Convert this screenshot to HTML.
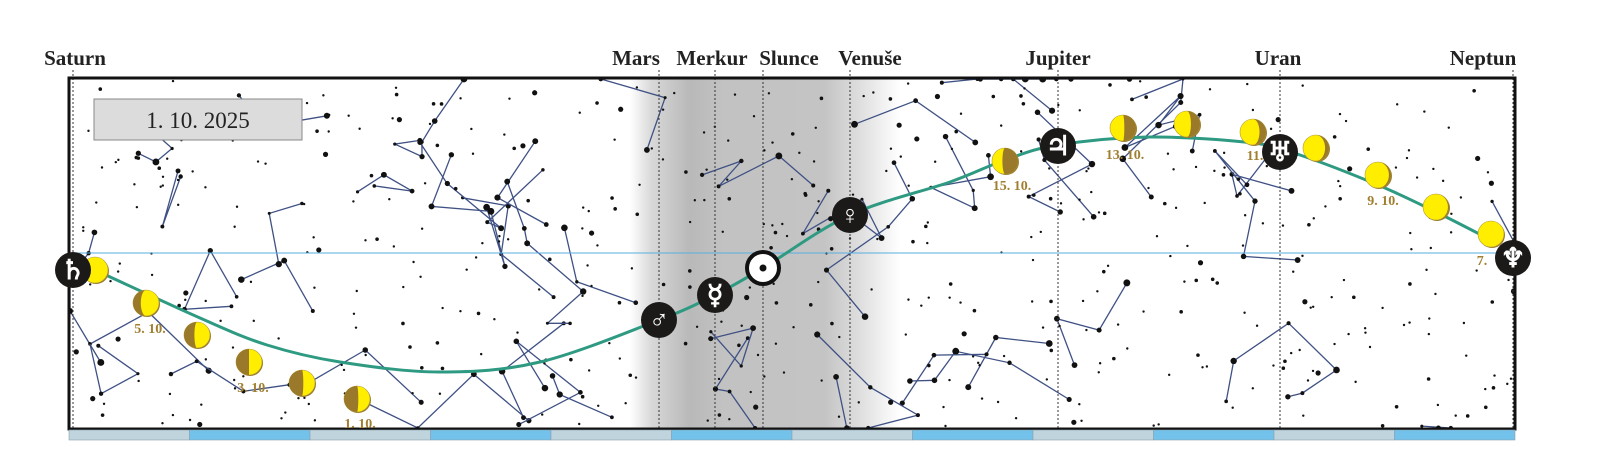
<!DOCTYPE html>
<html><head><meta charset="utf-8"><style>
html,body{margin:0;padding:0;background:#fff;width:1600px;height:457px;overflow:hidden;}
svg{display:block}
text{font-family:"Liberation Serif",serif;}
</style></head><body>
<svg id="s" width="1600" height="457" viewBox="0 0 1600 457" xmlns="http://www.w3.org/2000/svg">
<defs>
<linearGradient id="band" x1="0" x2="1" y1="0" y2="0">
<stop offset="0" stop-color="#fff"/>
<stop offset="0.08" stop-color="#d8d8d8"/>
<stop offset="0.22" stop-color="#b9b9b9"/>
<stop offset="0.35" stop-color="#c2c2c2"/>
<stop offset="0.72" stop-color="#c4c4c4"/>
<stop offset="0.85" stop-color="#dedede"/>
<stop offset="1" stop-color="#fff"/>
</linearGradient>
<clipPath id="fr"><rect x="69" y="78" width="1446" height="351"/></clipPath>
</defs>
<rect x="630" y="78" width="270" height="351" fill="url(#band)"/>
<g id="stars" clip-path="url(#fr)"></g>
<line x1="69" y1="253" x2="1515" y2="253" stroke="#5aaee0" stroke-width="1"/>
<g stroke="#333" stroke-width="1" stroke-dasharray="2,2">
<line x1="73" y1="70" x2="73" y2="429"/>
<line x1="659" y1="70" x2="659" y2="429"/>
<line x1="715" y1="70" x2="715" y2="429"/>
<line x1="763" y1="70" x2="763" y2="429"/>
<line x1="850" y1="70" x2="850" y2="429"/>
<line x1="1058" y1="70" x2="1058" y2="429"/>
<line x1="1280" y1="70" x2="1280" y2="429"/>
<line x1="1513" y1="70" x2="1513" y2="429"/>
</g>
<rect x="69" y="78" width="1446" height="351" fill="none" stroke="#111" stroke-width="3"/>
<g id="stripe"></g>
<g font-weight="bold" font-size="21" fill="#222">
<text x="75" y="65" text-anchor="middle">Saturn</text>
<text x="636" y="65" text-anchor="middle">Mars</text>
<text x="712" y="65" text-anchor="middle">Merkur</text>
<text x="789" y="65" text-anchor="middle">Slunce</text>
<text x="870" y="65" text-anchor="middle">Venuše</text>
<text x="1058" y="65" text-anchor="middle">Jupiter</text>
<text x="1278" y="65" text-anchor="middle">Uran</text>
<text x="1483" y="65" text-anchor="middle">Neptun</text>
</g>
<rect x="94" y="99" width="208" height="41" fill="#dcdcdc" stroke="#888" stroke-width="1"/>
<text x="198" y="128" text-anchor="middle" font-size="23" fill="#222">1. 10. 2025</text>
<path id="ecl" fill="none" stroke="#2f9a82" stroke-width="3"/>
<g id="moons"></g>
<g font-size="14" font-weight="bold" fill="#a07f30">
<text x="150" y="333" text-anchor="middle">5. 10.</text>
<text x="253" y="392" text-anchor="middle">3. 10.</text>
<text x="360" y="428" text-anchor="middle">1. 10.</text>
<text x="1012" y="190" text-anchor="middle">15. 10.</text>
<text x="1125" y="159" text-anchor="middle">13. 10.</text>
<text x="1255" y="160" text-anchor="middle">11.</text>
<text x="1383" y="205" text-anchor="middle">9. 10.</text>
<text x="1482" y="265" text-anchor="middle">7.</text>
</g>
<g id="planets" font-family="DejaVu Sans, sans-serif"></g>
</svg>
<script>
var NS="http://www.w3.org/2000/svg";
function el(t,a,p){var e=document.createElementNS(NS,t);for(var k in a)e.setAttribute(k,a[k]);(p||document.getElementById('s')).appendChild(e);return e;}
var seed=12345;function r(){seed=(seed*16807)%2147483647;return (seed-1)/2147483646;}
function cx(x){return Math.max(70,Math.min(1514,x));}function cy(y){return Math.max(79,Math.min(428,y));}
var st=document.getElementById('stars');
for(var i=0;i<45;i++){var x=69+r()*1446,y=78+r()*351,pts=[[x,y]];var n=2+Math.floor(r()*4);
for(var j=0;j<n;j++){x=cx(x+(r()-0.5)*130);y=cy(y+(r()-0.5)*120);pts.push([x,y]);}
el('polyline',{points:pts.map(function(p){return p[0].toFixed(1)+','+p[1].toFixed(1)}).join(' '),fill:'none',stroke:'#3f5184','stroke-width':1.3},st);
pts.forEach(function(p){el('circle',{cx:p[0],cy:p[1],r:1.5+r()*2,fill:'#111'},st);});}
for(var i=0;i<480;i++){var rr=r();el('circle',{cx:72+r()*1440,cy:81+r()*345,r:rr<0.7?1.2:(rr<0.93?1.8:2.6),fill:'#111'},st);}
var sg=document.getElementById('stripe');
for(var i=0;i<12;i++){var x0=69+i*120.5;el('rect',{x:x0,y:430,width:120.5,height:10,fill:i%2?'#72c2ec':'#c0d4de',stroke:'#8aa0ad','stroke-width':0.6},sg);}
var P=[[95,270],[200,318],[267,345],[340,362],[440,372],[540,362],[659,320],[715,295],[763,268],[850,215],[950,182],[1005,160],[1058,145],[1150,137],[1253,143],[1300,155],[1378,185],[1436,212],[1491,240]];
var d='M'+P[0][0]+','+P[0][1];
for(var i=0;i<P.length-1;i++){var p0=P[Math.max(0,i-1)],p1=P[i],p2=P[i+1],p3=P[Math.min(P.length-1,i+2)];
d+=' C'+(p1[0]+(p2[0]-p0[0])/6)+','+(p1[1]+(p2[1]-p0[1])/6)+' '+(p2[0]-(p3[0]-p1[0])/6)+','+(p2[1]-(p3[1]-p1[1])/6)+' '+p2[0]+','+p2[1];}
document.getElementById('ecl').setAttribute('d',d);
var M=[[95,270,0,0],[146,303,-1,0.3],[197,335,-1,0.4],[249,362,-1,0.5],[302,383,-1,0.55],[357,399,-1,0.55],
[1005,161,1,0.6],[1123,128,1,0.45],[1187,124,1,0.35],[1253,132,1,0.25],[1316,148,1,0.15],[1378,175,1,0.08],[1436,207,1,0.04],[1491,234,0,0]];
var mg=document.getElementById('moons');
M.forEach(function(m){var x=m[0],y=m[1],R=13;
el('circle',{cx:x+1,cy:y+1,r:R,fill:'#9a7a2a'},mg);
el('circle',{cx:x,cy:y,r:R,fill:'#ffee00',stroke:'#b09a40','stroke-width':0.6},mg);
if(m[2]){var s=m[2],w=R*(1-2*m[3]);var sw=s>0?1:0;
el('path',{d:'M'+x+','+(y-R)+' A'+R+','+R+' 0 0 '+sw+' '+x+','+(y+R)+' A'+Math.abs(w)+','+R+' 0 0 '+(w>0?1-sw:sw)+' '+x+','+(y-R)+'Z',fill:'#9a7a2a'},mg);}
});
var pg=document.getElementById('planets');
[[73,270,'♄'],[659,320,'♂'],[715,295,'☿'],[850,215,'♀'],[1058,146,'♃'],[1280,152,'♅'],[1513,258,'♆']].forEach(function(p){
el('circle',{cx:p[0],cy:p[1],r:18,fill:'#1c1a18'},pg);
var t=el('text',{x:p[0],y:p[1]+9,'text-anchor':'middle','font-size':27,'font-weight':'bold',fill:'#fff'},pg);t.textContent=p[2];});
el('circle',{cx:763,cy:268,r:16,fill:'#fff',stroke:'#111','stroke-width':4},pg);
el('circle',{cx:763,cy:268,r:3.5,fill:'#111'},pg);
</script>
</body></html>
